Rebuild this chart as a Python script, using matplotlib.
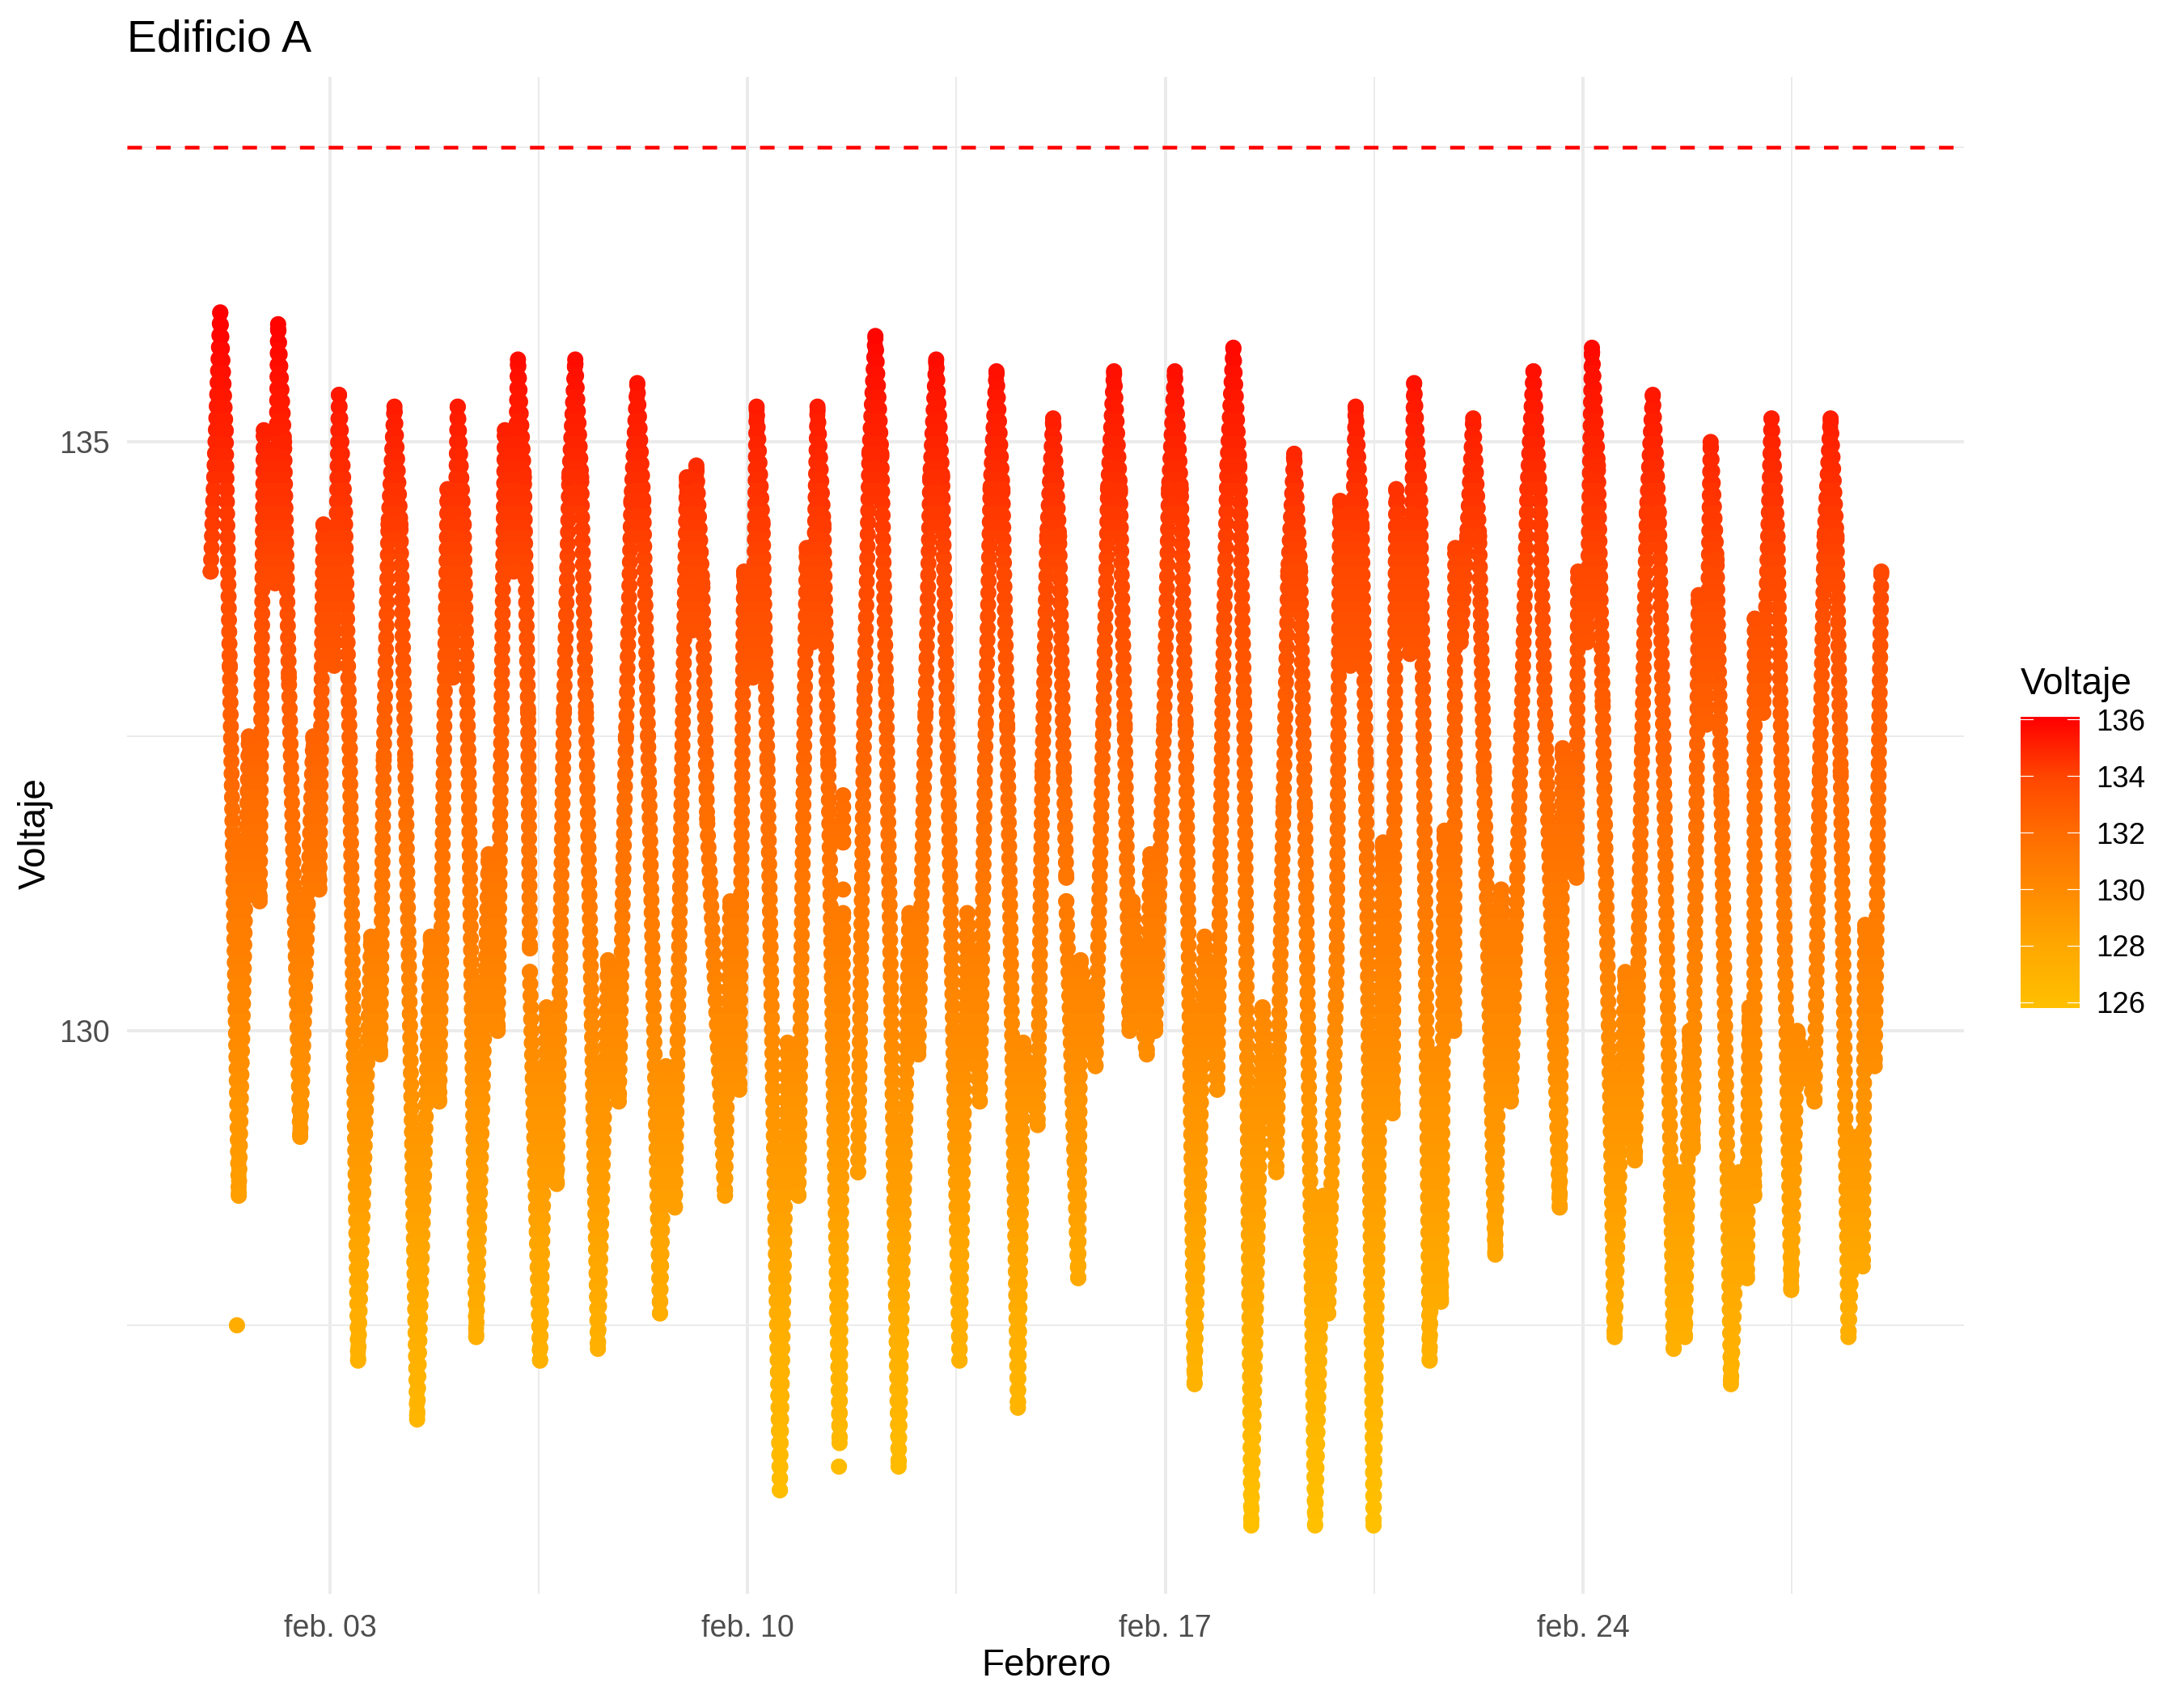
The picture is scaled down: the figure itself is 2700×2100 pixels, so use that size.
import numpy as np
import matplotlib
matplotlib.use("Agg")
import matplotlib.pyplot as plt
from matplotlib.colors import LinearSegmentedColormap, Normalize
from matplotlib.patches import Rectangle

plt.rcParams['font.family'] = ['Liberation Sans', 'DejaVu Sans']

n = np.nan

# dia de febrero y voltaje: picos, valles y saltos de cada dia
dias = [
    1.00, 1.16, 1.25, 1.32, 1.47, 1.64, 1.82, 1.89, 2.08,
    2.13, 2.23, 2.31, 2.50, 2.72, 2.82, 2.89, 3.07,
    3.15, 3.25, 3.33, 3.47, 3.69, 3.84, 3.90, 3.98,
    4.08, 4.18, 4.26, 4.46, 4.69, 4.83, 4.97, 5.06,
    5.14, 5.24, 5.32, 5.45, 5.66, 5.81, 5.93, 6.08,
    6.15, 6.25, 6.32, 6.35, n, 6.35, 6.52, 6.63, 6.80, 6.92, 7.01,
    7.11, 7.21, 7.29, 7.49, 7.66, 7.84, 7.96, 8.05,
    8.15, 8.25, 8.33, 8.53, 8.63, 8.78, 8.98, 9.07,
    9.14, 9.24, 9.32, 9.62, 9.71, 9.86, 9.94, 10.09,
    10.15, 10.25, 10.33, 10.54, 10.67, 10.85, 10.99, 11.09,
    11.17, 11.27, 11.35, 11.54, 11.60, n, 11.60, 11.60, n, 11.85, 11.96, 12.04,
    12.14, 12.24, 12.32, 12.53, 12.71, 12.86, 12.98, 13.06,
    13.16, 13.26, 13.34, 13.55, 13.68, 13.89, 13.99, 14.07,
    14.17, 14.27, 14.35, 14.53, 14.62, 14.86, 14.94, 15.02,
    15.12, 15.22, 15.30, 15.34, n, 15.34, 15.54, 15.58, 15.83, 15.96, 16.04,
    16.14, 16.24, 16.32, 16.40, 16.45, 16.61, 16.69, 16.75, 16.83, 16.98, 17.06,
    17.16, 17.26, 17.34, 17.49, 17.66, 17.87, 17.96, 18.04,
    18.14, 18.24, 18.32, 18.44, 18.63, 18.86, 18.98, 19.06,
    19.16, 19.26, 19.34, 19.51, 19.65, 19.73, 19.87, 19.93, 20.10,
    20.19, 20.29, 20.36, 20.49, 20.65, 20.81, 20.87, 21.10,
    21.17, 21.27, 21.33, 21.43, 21.51, 21.62, 21.68, 21.84, 21.86, 21.95, 22.06,
    22.16, 22.26, 22.34, 22.53, 22.63, 22.79, 22.97, 23.07,
    23.17, 23.27, 23.37, 23.61, 23.66, 23.89, 23.92, 24.07,
    24.15, 24.25, 24.33, 24.53, 24.71, 24.87, 24.99, 25.07,
    25.17, 25.27, 25.35, 25.52, 25.61, 25.71, 25.79, 25.84, 25.94, 26.07,
    26.14, 26.24, 26.32, 26.48, 26.62, 26.75, 26.79, 26.87, 26.88, 27.02,
    27.16, 27.26, 27.33, 27.49, 27.59, 27.88, 27.97, 28.05,
    28.15, 28.25, 28.32, 28.45, 28.58, 28.69, 28.73, 28.89, 29.00,
]
voltaje = [
    133.9, 136.1, 135.1, 133.1, 128.6, 132.5, 131.1, 135.1, 133.8,
    136.0, 135.0, 133.0, 129.1, 132.5, 131.2, 134.3, 133.1,
    135.4, 134.4, 132.4, 127.2, 130.8, 129.8, 132.3, 134.3,
    135.3, 134.3, 132.3, 126.7, 130.8, 129.4, 134.6, 133.0,
    135.3, 134.3, 132.3, 127.4, 131.5, 130.0, 135.1, 133.9,
    135.7, 134.7, 132.7, 130.7, n, 130.5, 127.2, 130.2, 128.7, 132.7, 134.7,
    135.7, 134.7, 132.7, 127.3, 130.6, 129.4, 132.5, 134.5,
    135.5, 134.5, 132.5, 127.6, 129.7, 128.5, 134.7, 133.4,
    134.8, 133.8, 131.8, 128.6, 131.1, 129.5, 133.9, 133.0,
    135.3, 134.3, 132.3, 126.1, 129.9, 128.6, 134.1, 133.3,
    135.3, 134.3, 132.3, 126.5, 131.0, n, 131.6, 132.0, n, 128.8, 132.9, 134.9,
    135.9, 134.9, 132.9, 126.3, 131.0, 129.8, 132.7, 134.7,
    135.7, 134.7, 132.7, 127.2, 131.0, 129.4, 132.6, 134.6,
    135.6, 134.6, 132.6, 126.8, 129.9, 129.2, 132.2, 134.2,
    135.2, 134.2, 132.2, 131.3, n, 131.1, 127.9, 130.6, 129.7, 132.6, 134.6,
    135.6, 134.6, 132.6, 130.0, 131.1, 130.1, 129.8, 131.5, 130.0, 132.6, 134.6,
    135.6, 134.6, 132.6, 127.0, 130.8, 129.5, 132.8, 134.8,
    135.8, 134.8, 132.8, 125.8, 130.2, 128.8, 131.9, 133.9,
    134.9, 133.9, 131.9, 125.8, 128.6, 127.6, 130.5, 134.5, 133.1,
    135.3, 134.3, 132.3, 125.8, 131.6, 129.3, 134.6, 133.2,
    135.5, 134.5, 132.5, 127.2, 129.8, 127.7, 131.7, 130.0, 134.1, 133.3, 134.2,
    135.2, 134.2, 132.2, 128.1, 131.2, 129.4, 132.6, 134.6,
    135.6, 134.6, 132.6, 128.5, 132.4, 131.3, 133.9, 133.3,
    135.8, 134.8, 132.8, 127.4, 130.5, 128.9, 132.4, 134.4,
    135.4, 134.4, 132.4, 127.3, 128.8, 127.4, 130.0, 129.0, 133.7, 132.6,
    135.0, 134.0, 132.0, 127.0, 128.8, 127.9, 130.2, 128.6, 133.5, 132.7,
    135.2, 134.2, 132.2, 127.8, 130.0, 129.4, 132.2, 134.2,
    135.2, 134.2, 132.2, 127.4, 129.1, 128.0, 130.9, 129.7, 133.9,
]

# puntos sueltos, separados de las columnas
sueltos_dia = [1.44, 11.53, 11.60]
sueltos_volt = [127.5, 126.3, 131.2]

limite = 137.5
ticks_y = [135, 130]
menores_y = [137.5, 132.5, 127.5]
ticks_x = [3, 10, 17, 24]
menores_x = [6.5, 13.5, 20.5, 27.5]
etiquetas_x = ["feb. 03", "feb. 10", "feb. 17", "feb. 24"]
ticks_leyenda = [136, 134, 132, 130, 128, 126]

cmap = LinearSegmentedColormap.from_list("voltaje", [
    (0.0, "#FFC000"), (0.214, "#FFA800"), (0.408, "#FF8A00"),
    (0.602, "#FF6C00"), (0.796, "#FF4600"), (1.0, "#FF0000"),
])
norm = Normalize(125.8, 136.1)

PX = 72 / 300
W, H = 2700, 2100
fig = plt.figure(figsize=(9, 7), dpi=300, facecolor="white")
ax = fig.add_axes([157 / W, 1 - 1970 / H, (2428 - 157) / W, (1970 - 95) / H])
ax.set_xlim(-0.403, 30.386)
ax.set_ylim(125.22, 138.10)

for s in ax.spines.values():
    s.set_visible(False)
ax.set_xticks(ticks_x, etiquetas_x)
ax.set_yticks(ticks_y)
ax.tick_params(length=0, labelsize=9, labelcolor="#4D4D4D")
ax.tick_params(axis="x", pad=6)
ax.tick_params(axis="y", pad=5)
ax.grid(True, color="#EBEBEB", lw=4 * PX, zorder=0)
ax.set_axisbelow(True)
for v in menores_x:
    ax.axvline(v, color="#EBEBEB", lw=2 * PX, zorder=0)
for v in menores_y:
    ax.axhline(v, color="#EBEBEB", lw=2 * PX, zorder=0)

# una franja por cada 0.1 V para que el color siga al voltaje
for nivel in np.arange(125.7, 136.3, 0.1):
    linea, = ax.plot(dias, voltaje, color=cmap(norm(nivel)), lw=20 * PX,
                     ls=(0, (0.01, 0.72)), dash_capstyle="round",
                     dash_joinstyle="round", zorder=3)
    linea.set_clip_path(Rectangle((-1, nivel - 0.05), 32, 0.1, transform=ax.transData))

# picos y valles siempre con su punto
ax.scatter(dias, voltaje, c=voltaje, cmap=cmap, norm=norm,
           s=(20 * PX) ** 2, linewidths=0, zorder=3)
ax.scatter(sueltos_dia, sueltos_volt, c=sueltos_volt, cmap=cmap, norm=norm,
           s=(20 * PX) ** 2, linewidths=0, zorder=3)
ax.axhline(limite, color="#FF0000", lw=4.5 * PX, ls=(0, (4, 3.9)), zorder=4)

fig.text(157 / W, 1 - 64 / H, "Edificio A", fontsize=13.3, color="black", ha="left", va="baseline")
fig.text(1293 / W, 1 - 2059 / H, "Febrero", fontsize=11, ha="center", va="center")
fig.text(44 / W, 1 - 1030 / H, "Voltaje", fontsize=11, rotation=90, ha="center", va="center")

# leyenda de color
cax = fig.add_axes([2498 / W, 1 - 1245.7 / H, (2570.7 - 2498) / W, (1245.7 - 886) / H])
cax.imshow(np.linspace(136.1, 125.8, 300).reshape(-1, 1), cmap=cmap, norm=norm,
           aspect="auto", extent=[0, 1, 125.8, 136.1])
for s in cax.spines.values():
    s.set_visible(False)
cax.set_xticks([])
cax.yaxis.tick_right()
cax.set_yticks(ticks_leyenda)
cax.tick_params(length=0, labelsize=8.8, pad=5, labelcolor="black")
for t in ticks_leyenda:
    cax.plot([0, 0.2], [t, t], color="white", lw=1.2 * PX)
    cax.plot([0.8, 1], [t, t], color="white", lw=1.2 * PX)
cax.set_xlim(0, 1)
cax.set_ylim(125.8, 136.1)
fig.text(2498 / W, 1 - 858 / H, "Voltaje", fontsize=11, ha="left", va="baseline")

fig.savefig("out.png", dpi=300)
